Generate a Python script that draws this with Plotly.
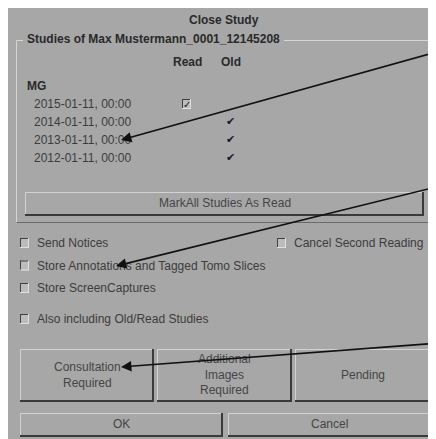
import plotly.graph_objects as go

# dialog content
dialog_title = "Close Study"
group_title = "Studies of Max Mustermann_0001_12145208"
modality = "MG"
study_dates = ["2015-01-11, 00:00", "2014-01-11, 00:00", "2013-01-11, 00:00", "2012-01-11, 00:00"]
read_flags = [True, False, False, False]
old_flags = [False, True, True, True]
mark_button = "MarkAll Studies As Read"
options = ["Send Notices", "Store Annotations and Tagged Tomo Slices", "Store ScreenCaptures"]
extra_option = "Also including Old/Read Studies"
side_option = "Cancel Second Reading"
action_buttons = ["Consultation<br>Required", "Additional<br>Images<br>Required", "Pending"]
bottom_buttons = ["OK", "Cancel"]

W, H = 436, 439
PAGE_MARGIN = 8  # default body margin of the html page
BG = "#a7a7a7"
TXT = "#3c3c3c"
FONT = "Liberation Sans"

shapes = []
ann = []

def line(x0, y0, x1, y1, color, width=1):
    shapes.append(dict(type="line", x0=x0, y0=y0, x1=x1, y1=y1,
                       line=dict(color=color, width=width), layer="below"))

def text(x, y, s, bold=False, color=TXT, size=12, anchor="left"):
    if bold:
        s = "<b>" + s + "</b>"
    ann.append(dict(x=x, y=y, text=s, showarrow=False, xanchor=anchor, yanchor="middle",
                    font=dict(family=FONT, size=size, color=color)))

def button(x0, y0, x1, y1, label):
    line(x0, y0 + 0.5, x1, y0 + 0.5, "#d2d2d2")
    line(x0 + 0.5, y0, x0 + 0.5, y1, "#d2d2d2")
    line(x0, y1 - 1, x1, y1 - 1, "#3a3a3a", 2)
    line(x1 - 1, y0, x1 - 1, y1, "#3a3a3a", 2)
    ann.append(dict(x=(x0 + x1) / 2, y=(y0 + y1) / 2 - 1, text=label, showarrow=False,
                    xanchor="center", yanchor="middle",
                    font=dict(family=FONT, size=12, color="#454545")))

def checkbox(x, y, checked=False):
    shapes.append(dict(type="rect", x0=x, y0=y - 5, x1=x + 9, y1=y + 5,
                       fillcolor="#bcbcbc", line=dict(width=0), layer="below"))
    line(x, y - 4.5, x + 9, y - 4.5, "#404040")
    line(x + 0.5, y - 5, x + 0.5, y + 5, "#404040")
    line(x, y + 4.5, x + 9, y + 4.5, "#e0e0e0")
    line(x + 8.5, y - 5, x + 8.5, y + 5, "#e0e0e0")
    if checked:
        text(x + 4.5, y + 0.5, "✓", color="#202020", size=10, anchor="center")

# window background
shapes.append(dict(type="rect", x0=8, y0=5, x1=W + 2, y1=H + 2, fillcolor=BG,
                   line=dict(width=0), layer="below"))

text(224, 20, dialog_title, bold=True, color="#2a2a2a", anchor="center")

# group box
gx0, gy0, gx1, gy1 = 16.5, 40.5, 431.5, 222.5
line(gx0, gy0, 23, gy0, "#d6d6d6")
line(284, gy0, gx1, gy0, "#d6d6d6")
line(gx0, gy0, gx0, gy1, "#d6d6d6")
line(gx1, gy0, gx1, gy1, "#8a8a8a")
line(gx0, gy1, gx1, gy1, "#6a6a6a")
text(25, 39, group_title, bold=True, color="#2a2a2a")

text(187, 62, "Read", bold=True, color="#2a2a2a", anchor="center")
text(231, 62, "Old", bold=True, color="#2a2a2a", anchor="center")
text(25, 86, modality, bold=True, color="#2a2a2a")

for i, d in enumerate(study_dates):
    y = 104 + i * 18
    text(32, y, d)
    if read_flags[i]:
        checkbox(182, y, checked=True)
    if old_flags[i]:
        text(230, y - 1, "✔", color="#1a1a1a", size=11, anchor="center")

button(25, 192, 424, 216, mark_button)

# option checkboxes
for i, o in enumerate(options):
    y = 243 + i * 22.5
    checkbox(20, y)
    text(35, y, o)
checkbox(20, 319)
text(35, 319, extra_option)
checkbox(277, 243)
text(292, 243, side_option)

# action buttons
bx = [(20, 154), (157, 292), (295, 430)]
for (a, b), lab in zip(bx, action_buttons):
    button(a, 349, b, 402, lab)
button(20, 413, 223, 437, bottom_buttons[0])
button(228, 413, 430, 437, bottom_buttons[1])

# callout arrows
arrows = [((440, 51), (121, 140)), ((440, 186), (116, 266)), ((440, 343), (121, 367))]
for (sx, sy), (ex, ey) in arrows:
    ann.append(dict(x=ex, y=ey, ax=sx, ay=sy, xref="x", yref="y", axref="x", ayref="y",
                    text="", showarrow=True, arrowhead=2, arrowsize=1.3, arrowwidth=1.6,
                    arrowcolor="#111111", standoff=0))

fig = go.Figure()
fig.update_layout(
    width=W - PAGE_MARGIN, height=H - PAGE_MARGIN,
    margin=dict(l=0, r=0, t=0, b=0),
    paper_bgcolor="white", plot_bgcolor="white",
    xaxis=dict(range=[PAGE_MARGIN, W], visible=False, fixedrange=True),
    yaxis=dict(range=[H, PAGE_MARGIN], visible=False, fixedrange=True),
    shapes=shapes, annotations=ann, showlegend=False,
)
fig.write_html("out.html")
